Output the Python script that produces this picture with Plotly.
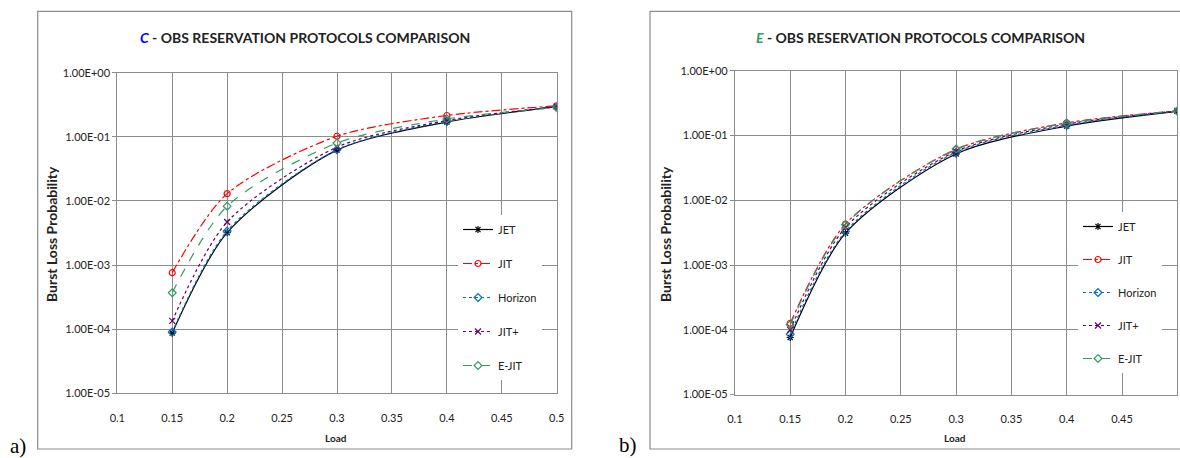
import plotly.graph_objects as go

# ---------------- data ----------------
load = [0.15, 0.2, 0.3, 0.4, 0.5]
series_names = ["JET", "JIT", "Horizon", "JIT+", "E-JIT"]

# (a) C-OBS
c_jet = [8.7e-5, 3.2e-3, 0.062, 0.170, 0.295]
c_jit = [7.6e-4, 1.30e-2, 0.102, 0.215, 0.305]
c_horizon = [9.0e-5, 3.4e-3, 0.063, 0.175, 0.292]
c_jitp = [1.35e-4, 4.7e-3, 0.069, 0.180, 0.295]
c_ejit = [3.7e-4, 8.3e-3, 0.080, 0.190, 0.285]

# (b) E-OBS
e_jet = [7.6e-5, 3.1e-3, 0.052, 0.140, 0.237]
e_jit = [1.26e-4, 4.3e-3, 0.061, 0.157, 0.240]
e_horizon = [8.5e-5, 3.3e-3, 0.055, 0.145, 0.240]
e_jitp = [1.0e-4, 3.8e-3, 0.057, 0.150, 0.240]
e_ejit = [1.2e-4, 4.2e-3, 0.062, 0.155, 0.240]

x_ticks = [0.1, 0.15, 0.2, 0.25, 0.3, 0.35, 0.4, 0.45, 0.5]
x_ticktext = ["0.1", "0.15", "0.2", "0.25", "0.3", "0.35", "0.4", "0.45", "0.5"]
y_ticks = [1e-5, 1e-4, 1e-3, 1e-2, 1e-1, 1e0]
y_ticktext = ["1.00E-05", "1.00E-04", "1.00E-03", "1.00E-02", "1.00E-01", "1.00E+00"]

# ---------------- styles ----------------
colors = ["#000000", "#FF0000", "#0070C0", "#660066", "#339966"]
dashes = ["solid", "dashdot", "dot", "dot", "dash"]
symbols = ["asterisk-open", "circle-open", "diamond-open", "x-thin-open", "diamond-open"]

W, H = 1180, 458
FONT = "Lato, Carlito, Calibri, sans-serif"
GRID = "#8c8c8c"

fig = go.Figure()

panels = [
    ("x", "y", "legend", [c_jet, c_jit, c_horizon, c_jitp, c_ejit]),
    ("x2", "y2", "legend2", [e_jet, e_jit, e_horizon, e_jitp, e_ejit]),
]
for xa, ya, lg, data in panels:
    for i, (name, vals) in enumerate(zip(series_names, data)):
        fig.add_trace(go.Scatter(
            x=load, y=vals, name=name, xaxis=xa, yaxis=ya, legend=lg,
            legendgroup=lg + name,
            mode="lines+markers",
            line=dict(color=colors[i], width=1.2, dash=dashes[i], shape="spline", smoothing=0.8),
            marker=dict(symbol=symbols[i], size=6, color=colors[i],
                        line=dict(color=colors[i], width=1.2)),
        ))


def px(x):
    return x / W


def py(y):
    return 1 - y / H


axis_common = dict(
    showgrid=True, gridcolor=GRID, gridwidth=1,
    showline=True, linecolor=GRID, linewidth=1, mirror=True,
    tickfont=dict(family=FONT, size=11, color="#222"),
    zeroline=False, automargin=False,
)

fig.update_layout(
    width=W, height=H,
    margin=dict(l=0, r=0, t=0, b=0, autoexpand=False),
    paper_bgcolor="white", plot_bgcolor="white",
    showlegend=True,
    xaxis=dict(domain=[px(117.3), px(556.7)], range=[0.1, 0.5], tickvals=x_ticks,
               ticktext=x_ticktext, anchor="y", ticks="", ticklabelstandoff=14, **axis_common),
    yaxis=dict(domain=[py(393.3), py(72.7)], type="log", range=[-5, 0], tickvals=y_ticks,
               ticktext=y_ticktext, anchor="x", ticks="outside", ticklen=4, tickcolor=GRID,
               **axis_common),
    xaxis2=dict(domain=[px(734.9), px(1177.3)], range=[0.1, 0.5], tickvals=x_ticks,
                ticktext=x_ticktext, anchor="y2", ticks="", ticklabelstandoff=14, **axis_common),
    yaxis2=dict(domain=[py(394.5), py(70.8)], type="log", range=[-5, 0], tickvals=y_ticks,
                ticktext=y_ticktext, anchor="x2", ticks="outside", ticklen=4, tickcolor=GRID,
                **axis_common),
    legend=dict(x=px(458), y=py(215), xanchor="left", yanchor="top",
                bgcolor="white", borderwidth=0, tracegroupgap=15,
                font=dict(family=FONT, size=11, color="#222"), itemwidth=30),
    legend2=dict(x=px(1078), y=py(212), xanchor="left", yanchor="top",
                 bgcolor="white", borderwidth=0, tracegroupgap=14,
                 font=dict(family=FONT, size=11, color="#222"), itemwidth=30),
)

shapes = [
    dict(type="rect", xref="paper", yref="paper", x0=px(37.7), x1=px(571.7), y0=py(449), y1=py(11.3),
         line=dict(color="#8c8c8c", width=1.2), fillcolor="rgba(0,0,0,0)", layer="below"),
    dict(type="rect", xref="paper", yref="paper", x0=px(650), x1=px(1190), y0=py(449), y1=py(11.3),
         line=dict(color="#8c8c8c", width=1.2), fillcolor="rgba(0,0,0,0)", layer="below"),
]
fig.update_layout(shapes=shapes)


def note(text, x, y, size, family=FONT, bold=False, angle=0, color="#222"):
    f = dict(family=family, size=size, color=color)
    if bold:
        f["weight"] = "bold"
    return dict(text=text, x=px(x), y=py(y), xref="paper", yref="paper", showarrow=False,
                xanchor="center", yanchor="middle", textangle=angle, font=f)


ann = [
    note("<i><span style='color:#0000FF'>C</span></i> - OBS RESERVATION PROTOCOLS COMPARISON",
         305, 38, 14, bold=True),
    note("<i><span style='color:#339966'>E</span></i> - OBS RESERVATION PROTOCOLS COMPARISON",
         920, 37, 14, bold=True),
    note("Burst Loss Probability", 51, 234, 14, bold=True, angle=-90),
    note("Burst Loss Probability", 665, 234, 14, bold=True, angle=-90),
    note("Load", 336, 438, 10, bold=True),
    note("Load", 955, 438, 10, bold=True),
    note("a)", 17.5, 446, 21, family="Liberation Serif, serif", color="black"),
    note("b)", 627.5, 445, 21, family="Liberation Serif, serif", color="black"),
]
fig.update_layout(annotations=ann)

fig.write_html("out.html", config={"displayModeBar": False},
               post_script="document.body.style.margin='0';")
